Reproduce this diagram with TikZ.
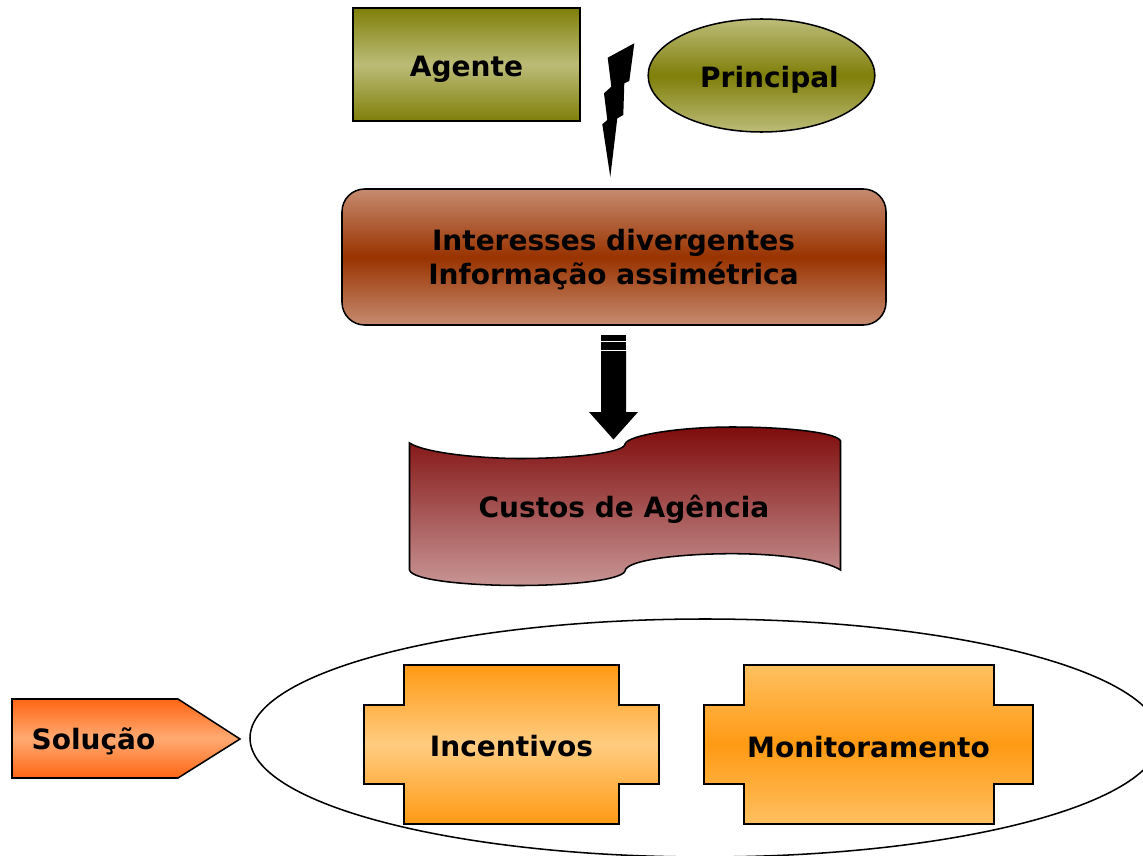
\documentclass[tikz,border=0pt]{standalone}
\usepackage{fontspec}
\setmainfont{DejaVu Sans}
\usetikzlibrary{shapes.geometric}

\definecolor{oliveDark}{HTML}{7F7F0A}
\definecolor{oliveLight}{HTML}{BCBC78}
\definecolor{brickDark}{HTML}{993300}
\definecolor{brickLight}{HTML}{C68B70}
\definecolor{wineDark}{HTML}{7F0C0C}
\definecolor{wineLight}{HTML}{C89595}
\definecolor{redOrange}{HTML}{FF6614}
\definecolor{redOrangeLight}{HTML}{FFAA72}
\definecolor{amber}{HTML}{FF9A14}
\definecolor{amberLight}{HTML}{FFCC80}
\definecolor{amberMid}{HTML}{FFC060}

\tikzset{
  label text/.style={font=\fontsize{21}{25.5}\selectfont\bfseries, align=center, text=black, inner sep=0pt},
  box line/.style={draw=black, line width=1.15pt},
  olive out/.style={top color=oliveDark, bottom color=oliveDark, middle color=oliveLight},
  olive in/.style={top color=oliveLight, bottom color=oliveLight, middle color=oliveDark},
  brick in/.style={top color=brickLight, bottom color=brickLight, middle color=brickDark},
  wine fade/.style={top color=wineDark, bottom color=wineLight},
  solucao fill/.style={top color=redOrange, bottom color=redOrange, middle color=redOrangeLight},
  amber out/.style={top color=amber, bottom color=amber, middle color=amberLight},
  amber in/.style={top color=amberMid, bottom color=amberMid, middle color=amber},
}

\begin{document}
\begin{tikzpicture}[x=0.75pt,y=-0.75pt]
\useasboundingbox (0,0) rectangle (1143,856);

\coordinate (r1) at (466.5,64.5);
\coordinate (r2) at (761.5,75.5);
\coordinate (r3) at (614,257);
\coordinate (e1) at (705,738);

\node[box line, olive out, shape=rectangle, minimum width=170pt, minimum height=84.75pt, anchor=center] (agenteBox) at (r1) {};
\node[box line, olive in, shape=ellipse, minimum width=170pt, minimum height=84.75pt, inner sep=0pt, anchor=center] (principalBox) at (r2) {};
\node[box line, brick in, shape=rectangle, minimum width=408pt, minimum height=102pt, rounded corners=17pt, anchor=center] (conflitoBox) at (r3) {};

\fill (634.3,43.3) -- (607.7,57.7) -- (611.3,86.7) -- (604,93.3) -- (607.3,120) -- (602.3,124.3)
  -- (610.3,177) -- (617.3,118.3) -- (623.3,115) -- (624.3,83.3) -- (629.3,81) -- cycle;

\fill (601,335) rectangle (626,340.5);
\fill (601,342) rectangle (626,349.5);
\fill (601,351) -- (626,351) -- (626,412) -- (638,412) -- (613.5,439.5) -- (589,412) -- (601,412) -- cycle;

\draw[box line, wine fade] (409.5,443) .. controls (425,453) and (480,458.5) .. (520,458.5)
  .. controls (570,458.5) and (625,453) .. (625,444)
  .. controls (628,435) and (680,427) .. (732,427)
  .. controls (790,427) and (838,433) .. (840.5,441)
  -- (840.5,570) .. controls (825,560) and (780,553.7) .. (732,553.7)
  .. controls (680,553.7) and (626,560) .. (625,571)
  .. controls (622,580) and (570,585.5) .. (520,585.5)
  .. controls (465,585.5) and (412,580) .. (409.5,570) -- cycle;

\draw[box line] (e1) ellipse [x radius=455, y radius=119];

\draw[box line, solucao fill] (12,699) -- (178,699) -- (240,739) -- (178,778) -- (12,778) -- cycle;

\draw[box line, amber out] (404,665) -- (619,665) -- (619,705) -- (659,705) -- (659,784) -- (619,784)
  -- (619,824) -- (404,824) -- (404,784) -- (364,784) -- (364,705) -- (404,705) -- cycle;
\draw[box line, amber in] (744,665) -- (994,665) -- (994,705) -- (1033,705) -- (1033,784) -- (994,784)
  -- (994,824) -- (744,824) -- (744,784) -- (704,784) -- (704,705) -- (744,705) -- cycle;

\node[label text] (agente) at (466.5,69) {Agente};
\node[label text] (principal) at (769.5,80) {Principal};
\node[label text] (conflito) at (613.5,260) {Interesses divergentes\\Informação assimétrica};
\node[label text] (custos) at (624,509) {Custos de Agência};
\node[label text] (solucao) at (93.5,741.5) {Solução};
\node[label text] (incentivos) at (511.5,746.5) {Incentivos};
\node[label text] (monitoramento) at (868.5,747) {Monitoramento};
\end{tikzpicture}
\end{document}
